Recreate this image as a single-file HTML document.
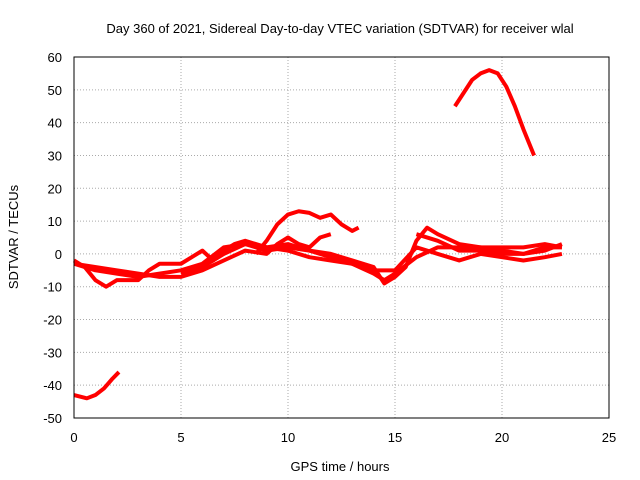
<!DOCTYPE html>
<html><head><meta charset="utf-8"><style>
body{margin:0;background:#fff}
svg{display:block;font-family:"Liberation Sans",sans-serif;font-size:13px}
</style></head><body>
<svg id="c" width="640" height="480">
<text x="340" y="33" text-anchor="middle">Day 360 of 2021, Sidereal Day-to-day VTEC variation (SDTVAR) for receiver wlal</text>
<text x="340" y="471" text-anchor="middle">GPS time / hours</text>
<text transform="translate(18,237) rotate(-90)" text-anchor="middle">SDTVAR / TECUs</text>
<g id="grid"></g><g id="ticks"></g><g id="series"></g>
<rect x="74" y="57" width="535" height="361" fill="none" stroke="#000"/>
</svg>
<script>
const xTicks=[0,5,10,15,20,25];
const yTicks=[60,50,40,30,20,10,0,-10,-20,-30,-40,-50];
const arcX=[17.8,18.2,18.6,19,19.4,19.8,20.2,20.6,21,21.5];
const arcY=[45,49,53,55,56,55,51,45,38,30];
const lowX=[0,0.3,0.6,1,1.4,1.8,2.1];
const lowY=[-43,-43.5,-44,-43,-41,-38,-36];
const humpX=[8.5,9,9.5,10,10.5,11,11.5,12,12.5,13,13.3];
const humpY=[0,4,9,12,13,12.5,11,12,9,7,8];
const aX=[0,1,2,3,4,5,6,7,8,9,10,11,12,13,14,14.5,15,16,17,18,19,20,21,22,22.8];
const aY=[-3,-5,-6,-7,-6,-5,-3,2,3,1,2,1,-1,-3,-6,-8,-6,-1,2,2,2,1,0,2,2];
const bX=[0,0.5,1,1.5,2,3,3.5,4,5,5.5,6,6.5,7,7.5,8,9,10,11,12,13,14,14.5,15,15.5,16,16.5,17,18,19,20,21,22,22.8];
const bY=[-2,-4,-8,-10,-8,-8,-5,-3,-3,-1,1,-2,1,3,4,2,3,1,0,-2,-4,-9,-7,-4,4,8,6,3,2,2,2,3,2];
const cX=[0,2,4,5,6,7,8,9,9.5,10,10.5,11,11.5,12];
const cY=[-3,-5,-7,-7,-5,-2,1,0,3,5,3,2,5,6];
const dX=[5,6,7,8,9,10,11,12,13,14,15,16,17,18,19,20,21,22,22.8];
const dY=[-6,-4,0,3,2,1,-1,-2,-3,-5,-5,2,0,-2,0,-1,-2,-1,0];
const eX=[16,17,18,19,20,21,22,22.8];
const eY=[6,4,1,1,0,0,1,3];
const NS='http://www.w3.org/2000/svg';
const sx=v=>74+v*535/25, sy=v=>57+(60-v)*361/110;
const g=document.getElementById('grid'), t=document.getElementById('ticks'), s=document.getElementById('series');
function el(n,a,p){const e=document.createElementNS(NS,n);for(const k in a)e.setAttribute(k,a[k]);p.appendChild(e);return e;}
xTicks.forEach(v=>{
 const l=el('line',{x1:sx(v),x2:sx(v),y1:57,y2:418,stroke:'#aaa','stroke-dasharray':'1,2'},g);
 
 
 const tx=el('text',{x:sx(v),y:442,'text-anchor':'middle'},t);tx.textContent=v;
 
 
});
yTicks.forEach(v=>{
 const l=el('line',{x1:74,x2:609,y1:sy(v),y2:sy(v),stroke:'#aaa','stroke-dasharray':'1,2'},g);
 
 
 const tx=el('text',{x:62,y:sy(v)+5,'text-anchor':'end'},t);tx.textContent=v;
 
 
});
function draw(X,Y,name){
 const p=el('polyline',{points:X.map((x,i)=>sx(x)+','+sy(Y[i])).join(' '),fill:'none',stroke:'#f00','stroke-width':4,'stroke-linejoin':'round'},s);
 
 
}
draw(arcX,arcY,'series-arc');
draw(lowX,lowY,'series-low');
draw(humpX,humpY,'series-hump');
draw(aX,aY,'series-a');
draw(bX,bY,'series-b');
draw(cX,cY,'series-c');
draw(dX,dY,'series-d');
draw(eX,eY,'series-e');
</script>
</body></html>
